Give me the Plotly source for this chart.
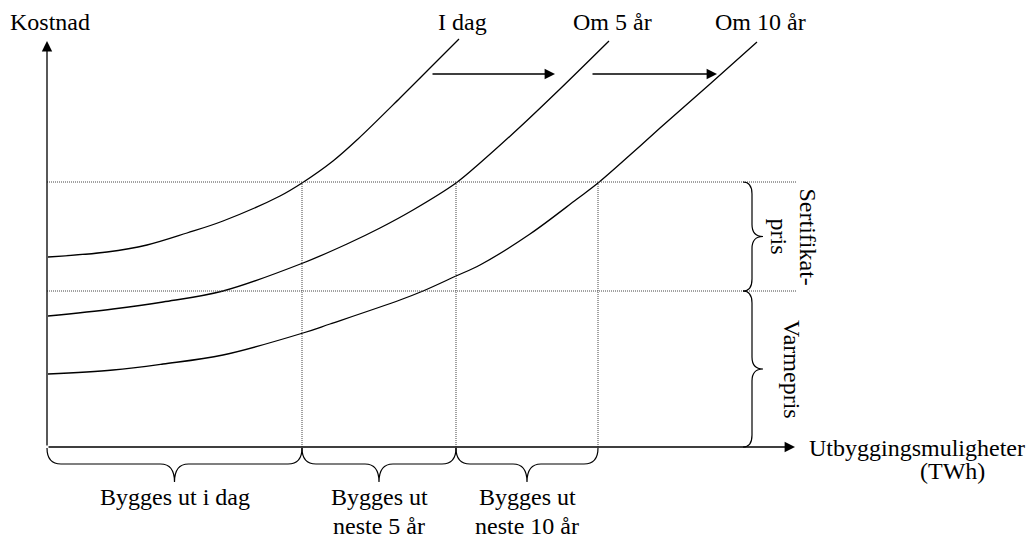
import plotly.graph_objects as go

FONT = "Liberation Serif, Times New Roman, serif"
FS = 24

# ---- data (x: utbyggingsmuligheter, y: kostnad; origin at axis corner) ----
idag_x = [1, 60, 100, 140, 176, 233, 255, 286, 311, 353, 383, 412]
idag_y = [190, 195, 202, 214, 226, 251, 264, 286, 308, 349, 379, 408]
om5_x = [1, 66, 116, 176, 256, 300, 333, 366, 409, 433, 473, 513, 562]
om5_y = [131, 138, 145, 156, 184, 203, 219, 237, 264, 284, 320, 358, 406]
om10_x = [1, 66, 116, 176, 256, 283, 353, 376, 409, 433, 483, 530, 551, 583, 613, 663, 710]
om10_y = [73, 77, 83, 92, 114, 123, 147, 156, 171, 182, 213, 248, 264, 292, 319, 363, 405]

curve_names = ["I dag", "Om 5 år", "Om 10 år"]
curve_label_x = [415, 565, 713]

price_levels = [265, 156]          # sertifikatpris-topp, varmepris-topp
build_limits = [0, 255, 409, 551]  # grenser for utbygging
build_labels = [["Bygges ut i dag"], ["Bygges ut", "neste 5 år"], ["Bygges ut", "neste 10 år"]]
price_labels = [["Sertifikat-", "pris"], ["Varmepris"]]

shift_arrows = [(384, 508), (544, 670)]
arrow_level = 373

x_axis_end = 748
y_axis_end = 406
level_line_end = 749

fig = go.Figure()

for xs, ys in [(idag_x, idag_y), (om5_x, om5_y), (om10_x, om10_y)]:
    fig.add_trace(go.Scatter(x=xs, y=ys, mode="lines",
                             line=dict(color="black", width=1.3, shape="spline", smoothing=1.0),
                             showlegend=False, hoverinfo="skip"))

dot = dict(color="#444", width=1, dash="1px,1px")
for lv in price_levels:
    fig.add_shape(type="line", x0=0, x1=level_line_end, y0=lv, y1=lv, line=dot, xref="x", yref="y")
for bx in build_limits[1:]:
    fig.add_shape(type="line", x0=bx, x1=bx, y0=0, y1=price_levels[0], line=dot, xref="x", yref="y")

ann = []
def arrow(x0, y0, x1, y1):
    ann.append(dict(x=x1, y=y1, ax=x0, ay=y0, xref="x", yref="y", axref="x", ayref="y",
                    text="", showarrow=True, arrowhead=2, arrowsize=1.6, arrowwidth=1.3,
                    arrowcolor="black"))

arrow(0, 0, 0, y_axis_end)
arrow(0, 0, x_axis_end, 0)
for a0, a1 in shift_arrows:
    arrow(a0, arrow_level, a1, arrow_level)

def label(x, y, t, angle=0, xanchor="center"):
    ann.append(dict(x=x, y=y, xref="x", yref="y", text=t, showarrow=False,
                    textangle=angle, xanchor=xanchor, yanchor="middle",
                    font=dict(family=FONT, size=FS, color="black")))

label(3, 425, "Kostnad")
for nm, lx in zip(curve_names, curve_label_x):
    label(lx, 425, nm)
label(870, -1, "Utbyggingsmuligheter")
label(905, -24, "(TWh)")

# bottom braces
def hbrace(x0, x1, ytop=-1, ybar=-17, ytip=-35, r=14):
    xm = (x0 + x1) / 2
    return (f"M {x0},{ytop} Q {x0},{ybar} {x0+r},{ybar} L {xm-r},{ybar} "
            f"Q {xm},{ybar} {xm},{ytip} Q {xm},{ybar} {xm+r},{ybar} "
            f"L {x1-r},{ybar} Q {x1},{ybar} {x1},{ytop}")

for i in range(3):
    x0, x1 = build_limits[i], build_limits[i + 1]
    fig.add_shape(type="path", path=hbrace(x0, x1), xref="x", yref="y",
                  line=dict(color="black", width=1.2))
    xm = (x0 + x1) / 2
    for j, t in enumerate(build_labels[i]):
        label(xm, -50 - 29 * j, t)

def vbrace(y0, y1, xe=696, xv=705, xt=716, r=12):
    ym = (y0 + y1) / 2
    return (f"M {xe},{y0} Q {xv},{y0} {xv},{y0-r} L {xv},{ym+r} "
            f"Q {xv},{ym} {xt},{ym} Q {xv},{ym} {xv},{ym-r} "
            f"L {xv},{y1+r} Q {xv},{y1} {xe},{y1}")

brace_spans = [(price_levels[0], price_levels[1]), (price_levels[1], 0)]
for (y0, y1), labs in zip(brace_spans, price_labels):
    fig.add_shape(type="path", path=vbrace(y0, y1), xref="x", yref="y",
                  line=dict(color="black", width=1.2))
    ym = (y0 + y1) / 2
    n = len(labs)
    for j, t in enumerate(labs):
        xx = 745 + (n - 1) * 16 - 29 * j
        label(xx, ym, t, angle=90)

# page body has an 8px margin, so shift the ranges to compensate
fig.update_layout(
    width=1034, height=539,
    margin=dict(l=0, r=0, t=0, b=0),
    paper_bgcolor="white", plot_bgcolor="white",
    xaxis=dict(range=[-39, 995], visible=False, fixedrange=True),
    yaxis=dict(range=[-100, 439], visible=False, fixedrange=True),
    annotations=ann, showlegend=False,
)

fig.write_html("out.html")
